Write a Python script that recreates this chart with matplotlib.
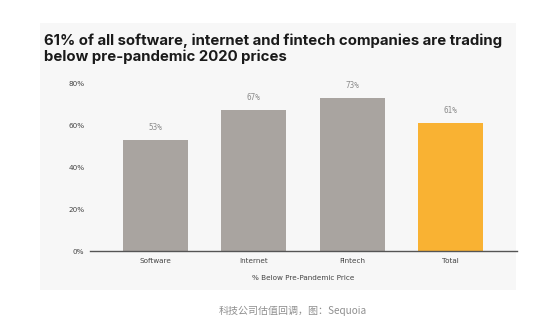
import matplotlib
matplotlib.use("Agg")
import matplotlib.pyplot as plt
from matplotlib.patches import Rectangle

categories = ["Software", "Internet", "Fintech", "Total"]
values = [0.53, 0.67, 0.73, 0.61]
labels = ["53%", "67%", "73%", "61%"]
colors = ["#a9a4a0", "#a9a4a0", "#a9a4a0", "#f9b233"]

fig = plt.figure(figsize=(5.56, 3.32), dpi=100)
fig.patch.set_facecolor("white")

# light grey panel behind the chart
fig.patches.append(Rectangle((40 / 556, 1 - 290 / 332), 476 / 556, 267 / 332,
                             transform=fig.transFigure, facecolor="#f7f7f7",
                             edgecolor="none", zorder=-1))

fig.text(44 / 556, 1 - 48.5 / 332,
         "61% of all software, internet and fintech companies are trading\nbelow pre-pandemic 2020 prices",
         fontsize=10.75, fontweight="bold", family="Inter", color="#1a1a1a",
         va="center", ha="left", linespacing=1.12)

ax = fig.add_axes([90 / 556, 1 - 251 / 332, 427 / 556, 168 / 332])
ax.set_zorder(2)
ax.set_facecolor("none")
x = range(len(categories))
ax.bar(x, values, width=0.66, color=colors)
for i, v in enumerate(values):
    ax.text(i, v + 0.06, labels[i], ha="center", va="center",
            fontsize=5.5, family="DejaVu Sans Mono", color="#8c8c8c")

ax.set_xlim(-0.665, 3.675)
ax.set_ylim(0, 0.8)
ax.set_yticks([0, 0.2, 0.4, 0.6, 0.8])
ax.set_yticklabels(["0%", "20%", "40%", "60%", "80%"])
ax.set_xticks(list(x))
ax.set_xticklabels(categories)
ax.tick_params(axis="both", length=0, labelsize=5.2, labelcolor="#444444")
ax.tick_params(axis="x", pad=5)
ax.tick_params(axis="y", pad=4)
for s in ["top", "right", "left"]:
    ax.spines[s].set_visible(False)
ax.spines["bottom"].set_color("#555555")
ax.spines["bottom"].set_linewidth(1)
ax.set_xlabel("% Below Pre-Pandemic Price", fontsize=5.2, color="#444444", labelpad=8)

fig.text(293 / 556, 1 - 311 / 332, "科技公司估值回调，图：Sequoia",
         fontsize=7.2, family=["Noto Sans CJK SC", "DejaVu Sans"], color="#8f8f8f",
         ha="center", va="center")

fig.savefig("out.png", dpi=100)
